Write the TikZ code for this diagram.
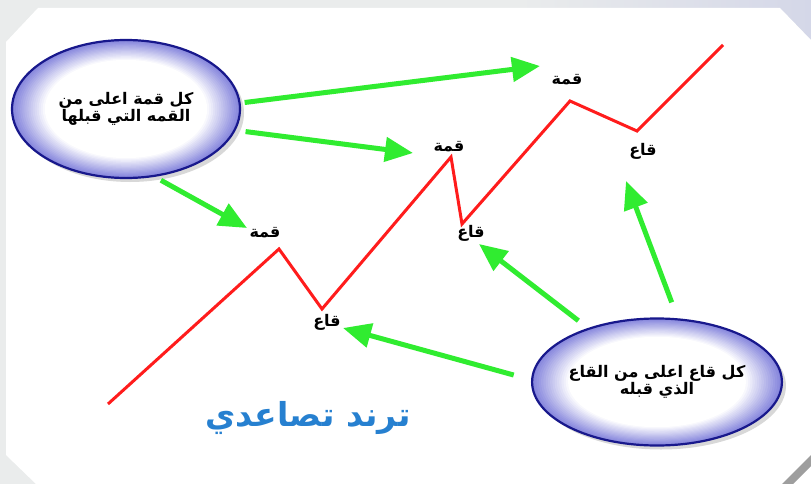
\documentclass[tikz,border=0pt]{standalone}
\usepackage{fontspec}
\newfontfamily\arabicfont[Script=Arabic]{DejaVu Sans}
\TeXXeTstate=1
\usetikzlibrary{arrows.meta,shapes.geometric,shadows,calc}
\definecolor{trendred}{RGB}{255,28,28}
\definecolor{arrowgreen}{RGB}{48,236,48}
\definecolor{ellblue}{RGB}{132,132,220}
\definecolor{ellborder}{RGB}{24,24,140}
\definecolor{titleblue}{RGB}{38,128,208}
\definecolor{framegray}{RGB}{234,236,236}
\definecolor{frameblue}{RGB}{212,215,232}
\tikzset{
  note/.style={ellipse,draw=ellborder,line width=2.2pt,fill=white,inner sep=0pt,
    align=center,font=\arabicfont\bfseries\fontsize{16}{17}\selectfont,
    drop shadow={shadow xshift=4pt,shadow yshift=-4pt,fill=black!30},
    path picture={\foreach \k [evaluate=\k as \sc using 1-0.018*\k,
        evaluate=\k as \mix using int(100-\k*100/16)] in {0,...,16}
      \fill[ellblue!\mix!white] let \p1=(path picture bounding box.north east),
        \p2=(path picture bounding box.center) in
        (\p2) ellipse ({(\x1-\x2)*\sc} and {(\y1-\y2)*\sc});}},
  lbl/.style={font=\arabicfont\bfseries\fontsize{16}{18}\selectfont,inner sep=1pt},
  grn/.style={draw=arrowgreen,line width=5pt,-{Triangle[length=28pt,width=24pt]}},
}
\begin{document}
\begin{tikzpicture}[x=1pt,y=-1pt]
\useasboundingbox (0,0) rectangle (811,484);
% frame
\fill[framegray] (0,0) rectangle (811,484);
\shade[left color=framegray,right color=frameblue] (520,0) rectangle (811,60);
\fill[white] (38,8) -- (780,8) -- (811,40) -- (811,484) -- (36,484) -- (6,455) -- (6,42) -- cycle;
\fill[black!38] (782,484) -- (811,455) -- (811,466) -- (793,484) -- cycle;
% trend line
\coordinate (s) at (108,404);  \coordinate (p1) at (279,249);
\coordinate (t1) at (322,309); \coordinate (p2) at (451,157);
\coordinate (t2) at (462,224); \coordinate (p3) at (570,101);
\coordinate (t3) at (637,131); \coordinate (e) at (723,45);
\draw[trendred,line width=3pt] (s)--(p1)--(t1)--(p2)--(t2)--(p3)--(t3)--(e);
\node[lbl] (top1) at (265,233) {\beginR قمة\endR};
\node[lbl] (top2) at (449,147) {\beginR قمة\endR};
\node[lbl] (top3) at (567,80) {\beginR قمة\endR};
\node[lbl] (low1) at (327,322) {\beginR قاع\endR};
\node[lbl] (low2) at (471,233) {\beginR قاع\endR};
\node[lbl] (low3) at (643,151) {\beginR قاع\endR};
% notes
\node[note,minimum width=228pt,minimum height=138pt] (noteTop) at (126,109)
  {\beginR كل قمة اعلى من\endR\\\beginR القمه التي قبلها\endR};
\node[note,minimum width=248pt,minimum height=127pt] (noteLow) at (657,382)
  {\beginR كل قاع اعلى من القاع\endR\\\beginR الذي قبله\endR};
\node[font=\arabicfont\bfseries\fontsize{33}{36}\selectfont,text=titleblue] (trend) at (308,418)
  {\beginR ترند تصاعدي\endR};
% arrows
\coordinate (aTop3) at (540,66);  \coordinate (aTop2) at (413,153);
\coordinate (aTop1) at (247,228); \coordinate (aLow1) at (343,328);
\coordinate (aLow2) at (479,244); \coordinate (aLow3) at (626,181);
\draw[grn,shorten <=4pt] (noteTop.3) -- (aTop3);
\draw[grn,shorten <=10pt] (noteTop.-11) -- (aTop2);
\draw[grn,shorten <=7pt] (noteTop.-67) -- (aTop1);
\draw[grn,shorten <=18pt] (noteLow.179) -- (aLow1);
\draw[grn,shorten <=12pt] (noteLow.142) -- (aLow2);
\draw[grn,shorten <=17pt] (noteLow.72) -- (aLow3);
\end{tikzpicture}
\end{document}
